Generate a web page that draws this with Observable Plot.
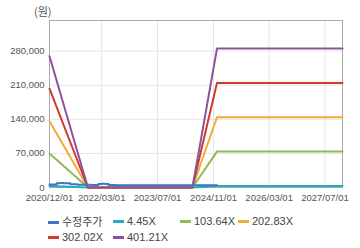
<!DOCTYPE html>
<html>
<head>
<meta charset="utf-8">
<script src="https://cdn.jsdelivr.net/npm/d3@7"></script>
<script src="https://cdn.jsdelivr.net/npm/@observablehq/plot@0.6"></script>
<style>
  html, body { margin: 0; padding: 0; background: #fff; }
  #wrap { position: relative; width: 360px; height: 248px; font-family: "Liberation Sans", "Noto Sans CJK KR", sans-serif; }
  #unit { position: absolute; left: 34px; top: 3px; font-size: 11px; color: #555; font-family: "Noto Sans CJK KR", sans-serif; }
  .item { position: absolute; font-size: 11px; color: #444; line-height: 14px; white-space: nowrap; }
  .sw { display: inline-block; width: 11px; height: 3px; vertical-align: middle; margin-right: 3px; position: relative; top: -1px; }
</style>
</head>
<body>
<div id="wrap">
  <div id="chart"></div>
  <div id="unit">(원)</div>
  <div id="legend"></div>
</div>
<script>
// Series names and colours
const seriesNames = ["수정주가", "4.45X", "103.64X", "202.83X", "302.02X", "401.21X"];
const seriesColors = ["#3a78c4", "#1eaec0", "#8dbb55", "#f4a93a", "#d23a2f", "#8e529c"];

// Adjusted price (수정주가)
const priceDates = ["2020-12-01","2021-01-01","2021-02-01","2021-03-01","2021-04-01","2021-05-01","2021-06-01","2021-08-01","2021-10-01","2021-12-01","2022-01-01","2022-02-01","2022-03-01","2022-04-01","2022-05-01","2022-07-01","2022-10-01","2023-01-01","2023-04-01","2023-07-01","2023-10-01","2024-01-01","2024-04-01","2024-07-01","2024-10-01","2024-12-01"];
const priceValues = [6100, 6300, 8700, 9000, 8800, 8600, 6500, 5800, 5500, 5200, 5000, 7400, 7600, 7300, 5200, 4800, 4700, 4600, 4600, 4500, 4600, 4500, 4500, 4600, 4500, 4500];

// Valuation band lines
const bandDates = ["2020-12-01", "2021-11-01", "2024-05-01", "2024-12-01", "2027-12-01"];
const band4_45   = [2990, 0, 0, 3160, 3160];
const band103_64 = [69600, 0, 0, 73700, 73700];
const band202_83 = [136300, 0, 0, 144200, 144200];
const band302_02 = [203000, 0, 0, 214700, 214700];
const band401_21 = [269600, 0, 0, 285300, 285300];

// Axis ticks
const xTicks = ["2020-12-01", "2022-03-01", "2023-07-01", "2024-11-01", "2026-03-01", "2027-07-01"];
const yTicks = [0, 70000, 140000, 210000, 280000];

const bands = [band4_45, band103_64, band202_83, band302_02, band401_21];
const rows = [];
bands.forEach((vals, i) => {
  vals.forEach((v, j) => rows.push({series: seriesNames[i + 1], date: new Date(bandDates[j]), value: v}));
});
const priceRows = priceDates.map((d, j) => ({series: seriesNames[0], date: new Date(d), value: priceValues[j]}));

const fmtDate = d3.utcFormat("%Y/%m/%d");
const fmtNum = d3.format(",");
const xTickDates = xTicks.map(d => new Date(d));

const plot = Plot.plot({
  width: 360,
  height: 210,
  marginTop: 20,
  marginBottom: 23,
  marginLeft: 49,
  marginRight: 18,
  style: { fontFamily: "Liberation Sans, sans-serif", fontSize: "9.5px", color: "#555", background: "#fff" },
  x: { type: "utc", domain: [new Date("2020-12-01"), new Date("2027-12-01")], label: null },
  y: { domain: [0, 343000], label: null },
  color: { domain: seriesNames, range: seriesColors },
  marks: [
    Plot.gridX(xTickDates, { stroke: "#e6e6e6", strokeOpacity: 1 }),
    Plot.gridY(yTicks, { stroke: "#e6e6e6", strokeOpacity: 1 }),
    Plot.frame({ stroke: "#aaaaaa" }),
    Plot.axisX({ ticks: xTickDates, tickFormat: fmtDate, tickSize: 0, tickPadding: 7, fill: "#555", fontSize: 9.5 }),
    Plot.axisY({ ticks: yTicks, tickFormat: fmtNum, tickSize: 0, tickPadding: 5, fill: "#555", fontSize: 9.5 }),
    Plot.line(rows, { x: "date", y: "value", z: "series", stroke: "series", strokeWidth: 2 }),
    Plot.line(priceRows, { x: "date", y: "value", stroke: "series", strokeWidth: 2, curve: "step-after" })
  ]
});
document.getElementById("chart").appendChild(plot);

// Legend
const legendPos = [[48, 214], [113, 214], [180, 214], [238, 214], [48, 230], [113, 230]];
const legend = document.getElementById("legend");
seriesNames.forEach((name, i) => {
  const el = document.createElement("div");
  el.className = "item";
  el.style.left = legendPos[i][0] + "px";
  el.style.top = legendPos[i][1] + "px";
  if (i === 0) el.style.fontFamily = "'Noto Sans CJK KR', sans-serif";
  el.innerHTML = `<span class="sw" style="background:${seriesColors[i]}"></span>${name}`;
  legend.appendChild(el);
});
</script>
</body>
</html>
